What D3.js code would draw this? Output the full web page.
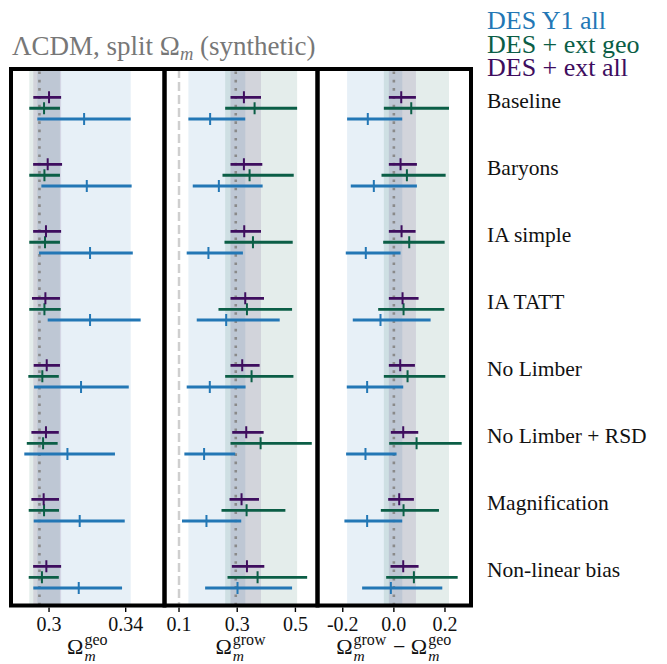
<!DOCTYPE html>
<html>
<head>
<meta charset="utf-8">
<script src="https://cdn.jsdelivr.net/npm/d3@7"></script>
<style>
  html, body { margin: 0; padding: 0; background: #fff; }
  svg { display: block; }
</style>
</head>
<body>
<svg id="chart" width="667" height="664" font-family="'Liberation Serif', 'DejaVu Serif', serif"></svg>
<script>
// Analysis variants, one row group each
const categories = ["Baseline", "Baryons", "IA simple", "IA TATT", "No Limber",
  "No Limber + RSD", "Magnification", "Non-linear bias"];

const seriesNames = ["DES Y1 all", "DES + ext geo", "DES + ext all"];

// [lower, central, upper] per category
const geoY1 = [[0.2939, 0.3183, 0.3426], [0.2960, 0.3197, 0.3431], [0.2948, 0.3214, 0.3437],
  [0.2993, 0.3214, 0.3478], [0.2922, 0.3167, 0.3416], [0.2871, 0.3096, 0.3344],
  [0.2920, 0.3160, 0.3395], [0.2918, 0.3155, 0.3381]];
const geoExtGeo = [[0.2897, 0.2974, 0.3057], [0.2897, 0.2976, 0.3057], [0.2897, 0.2979, 0.3057],
  [0.2897, 0.2976, 0.3061], [0.2892, 0.2965, 0.3051], [0.2884, 0.2969, 0.3045],
  [0.2894, 0.2974, 0.3052], [0.2894, 0.2963, 0.3051]];
const geoExtAll = [[0.2918, 0.3000, 0.3063], [0.2917, 0.2993, 0.3068], [0.2917, 0.2984, 0.3063],
  [0.2911, 0.2981, 0.3057], [0.2920, 0.2988, 0.3057], [0.2908, 0.2984, 0.3051],
  [0.2908, 0.2972, 0.3052], [0.2917, 0.2986, 0.3063]];

const growY1 = [[0.1322, 0.2069, 0.3276], [0.1472, 0.2369, 0.3873], [0.1264, 0.2011, 0.3196],
  [0.1609, 0.2621, 0.4460], [0.1264, 0.2058, 0.3287], [0.1184, 0.1862, 0.2931],
  [0.1103, 0.1943, 0.3138], [0.1897, 0.3010, 0.4885]];
const growExtGeo = [[0.2586, 0.3597, 0.5058], [0.2494, 0.3425, 0.4942], [0.2563, 0.3541, 0.4907],
  [0.2356, 0.3334, 0.4885], [0.2586, 0.3493, 0.4931], [0.2770, 0.3804, 0.5562],
  [0.2460, 0.3322, 0.4655], [0.2667, 0.3700, 0.5403]];
const growExtAll = [[0.2770, 0.3230, 0.3817], [0.2770, 0.3230, 0.3862], [0.2770, 0.3241, 0.3817],
  [0.2770, 0.3276, 0.3920], [0.2770, 0.3172, 0.3769], [0.2828, 0.3310, 0.3908],
  [0.2736, 0.3149, 0.3748], [0.2816, 0.3334, 0.3931]];

const diffY1 = [[-0.1830, -0.1020, 0.0327], [-0.1686, -0.0784, 0.0902], [-0.1882, -0.1098, 0.0261],
  [-0.1608, -0.0523, 0.1438], [-0.1843, -0.1046, 0.0366], [-0.1869, -0.1111, 0.0105],
  [-0.1935, -0.1046, 0.0327], [-0.1242, -0.0118, 0.1895]];
const diffExtGeo = [[-0.0392, 0.0680, 0.2157], [-0.0484, 0.0510, 0.2026], [-0.0418, 0.0601, 0.1987],
  [-0.0614, 0.0379, 0.1974], [-0.0392, 0.0536, 0.2013], [-0.0183, 0.0889, 0.2654],
  [-0.0510, 0.0379, 0.1765], [-0.0301, 0.0784, 0.2497]];
const diffExtAll = [[-0.0196, 0.0288, 0.0863], [-0.0196, 0.0261, 0.0902], [-0.0196, 0.0301, 0.0850],
  [-0.0196, 0.0340, 0.0967], [-0.0196, 0.0248, 0.0824], [-0.0118, 0.0366, 0.0954],
  [-0.0222, 0.0209, 0.0784], [-0.0131, 0.0366, 0.0967]];

// Axis ticks
const geoTicks = [0.3, 0.34];
const geoTickLabels = ["0.3", "0.34"];
const growTicks = [0.1, 0.3, 0.5];
const growTickLabels = ["0.1", "0.3", "0.5"];
const diffTicks = [-0.2, 0.0, 0.2];
const diffTickLabels = ["-0.2", "0.0", "0.2"];

// Reference lines: fiducial value (dotted) and prior edge (dashed)
const fiducialOm = 0.295;
const priorEdge = 0.1;

// ---- styling / layout ----
const colors = ["#2377b5", "#0b5e46", "#3e0d5e"];
const bandAlpha = 0.11;
const rowOffset = [0.324, 0.164, 0]; // Y1 lowest, ext all highest in each group

const plotTop = 69, plotBottom = 605.5;
const panels = [
  { x0: 11, x1: 164.5, domain: [0.2812, 0.3592], series: [geoY1, geoExtGeo, geoExtAll],
    ticks: geoTicks, tickLabels: geoTickLabels, ref: fiducialOm, prior: null,
    label: [{ t: "Ω", sup: "geo", sub: "m" }] },
  { x0: 164.5, x1: 317.5, domain: [0.057, 0.569], series: [growY1, growExtGeo, growExtAll],
    ticks: growTicks, tickLabels: growTickLabels, ref: fiducialOm, prior: priorEdge,
    label: [{ t: "Ω", sup: "grow", sub: "m" }] },
  { x0: 317.5, x1: 471, domain: [-0.291, 0.294], series: [diffY1, diffExtGeo, diffExtAll],
    ticks: diffTicks, tickLabels: diffTickLabels, ref: 0, prior: null,
    label: [{ t: "Ω", sup: "grow", sub: "m" }, { t: " − " }, { t: "Ω", sup: "geo", sub: "m" }] }
];

const svg = d3.select("#chart");
const y = d3.scaleLinear().domain([-0.422, 7.585]).range([plotTop, plotBottom]);

panels.forEach((p, pi) => {
  const x = d3.scaleLinear().domain(p.domain).range([p.x0 + 2, p.x1 - 2]);
  const g = svg.append("g");
  const clipId = "clip" + pi;
  svg.append("clipPath").attr("id", clipId).append("rect")
    .attr("x", p.x0).attr("y", plotTop).attr("width", p.x1 - p.x0).attr("height", plotBottom - plotTop);
  const inner = g.append("g").attr("clip-path", `url(#${clipId})`);

  // shaded baseline intervals
  p.series.forEach((s, si) => {
    inner.append("rect")
      .attr("x", x(s[0][0])).attr("width", x(s[0][2]) - x(s[0][0]))
      .attr("y", plotTop).attr("height", plotBottom - plotTop)
      .attr("fill", colors[si]).attr("fill-opacity", bandAlpha);
  });

  if (p.prior !== null) {
    inner.append("line")
      .attr("x1", x(p.prior)).attr("x2", x(p.prior)).attr("y1", plotTop).attr("y2", plotBottom)
      .attr("stroke", "#cfcfcf").attr("stroke-width", 2.5).attr("stroke-dasharray", "9 4");
  }
  inner.append("line")
    .attr("x1", x(p.ref)).attr("x2", x(p.ref)).attr("y1", plotTop + 2.5).attr("y2", plotBottom)
    .attr("stroke", "#8a8a8a").attr("stroke-width", 2.6).attr("stroke-dasharray", "2.6 5.7");

  // error bars
  p.series.forEach((s, si) => {
    const eg = inner.append("g");
    eg.selectAll("line.bar").data(s).join("line").attr("class", "bar")
      .attr("x1", d => x(d[0])).attr("x2", d => x(d[2]))
      .attr("y1", (d, i) => y(i + rowOffset[si])).attr("y2", (d, i) => y(i + rowOffset[si]))
      .attr("stroke", colors[si]).attr("stroke-width", 2.8);
    eg.selectAll("line.mid").data(s).join("line").attr("class", "mid")
      .attr("x1", d => x(d[1])).attr("x2", d => x(d[1]))
      .attr("y1", (d, i) => y(i + rowOffset[si]) - 6).attr("y2", (d, i) => y(i + rowOffset[si]) + 6)
      .attr("stroke", colors[si]).attr("stroke-width", 2);
  });

  // x axis
  const ax = g.append("g").attr("transform", `translate(0,${plotBottom + 2})`);
  ax.selectAll("line").data(p.ticks).join("line")
    .attr("x1", d => x(d)).attr("x2", d => x(d)).attr("y1", 0).attr("y2", 4.5)
    .attr("stroke", "#000").attr("stroke-width", 1.4);
  ax.selectAll("text").data(p.ticks).join("text")
    .attr("x", d => x(d)).attr("y", 23).attr("text-anchor", "middle")
    .attr("font-size", 20).attr("fill", "#111")
    .text((d, i) => p.tickLabels[i]);

  // frame
  g.append("rect").attr("x", p.x0).attr("y", plotTop)
    .attr("width", p.x1 - p.x0).attr("height", plotBottom - plotTop)
    .attr("fill", "none").attr("stroke", "#000").attr("stroke-width", 4);

  // axis title with stacked super/subscripts
  const lt = svg.append("g");
  let cx = 0;
  p.label.forEach(part => {
    const t = lt.append("text").attr("x", cx).attr("y", 0).attr("font-size", 22)
      .attr("fill", "#111").attr("xml:space", "preserve").text(part.t);
    cx += t.node().getComputedTextLength();
    if (part.sup) {
      const sp = lt.append("text").attr("x", cx + 1).attr("y", -9.5).attr("font-size", 16)
        .attr("fill", "#111").text(part.sup);
      lt.append("text").attr("x", cx + 1).attr("y", 6.5).attr("font-size", 15.5)
        .attr("font-style", "italic").attr("fill", "#111").text(part.sub);
      cx += sp.node().getComputedTextLength() + 2;
    }
  });
  lt.attr("transform", `translate(${(p.x0 + p.x1) / 2 - cx / 2},654)`);
});

// row labels
svg.append("g").selectAll("text").data(categories).join("text")
  .attr("x", 487).attr("y", (d, i) => y(i) + 11)
  .attr("font-size", 21.5).attr("fill", "#111").text(d => d);

// legend
svg.append("g").selectAll("text").data(seriesNames).join("text")
  .attr("x", 487).attr("y", (d, i) => 29 + i * 23.5)
  .attr("font-size", 26).attr("fill", (d, i) => colors[i]).text(d => d);

// title
const title = svg.append("text").attr("x", 12).attr("y", 55).attr("font-size", 27).attr("fill", "#777");
title.append("tspan").text("ΛCDM, split Ω");
title.append("tspan").attr("font-size", 18.5).attr("font-style", "italic").attr("dy", 5).text("m");
title.append("tspan").attr("dy", -5).text(" (synthetic)");
</script>
</body>
</html>
